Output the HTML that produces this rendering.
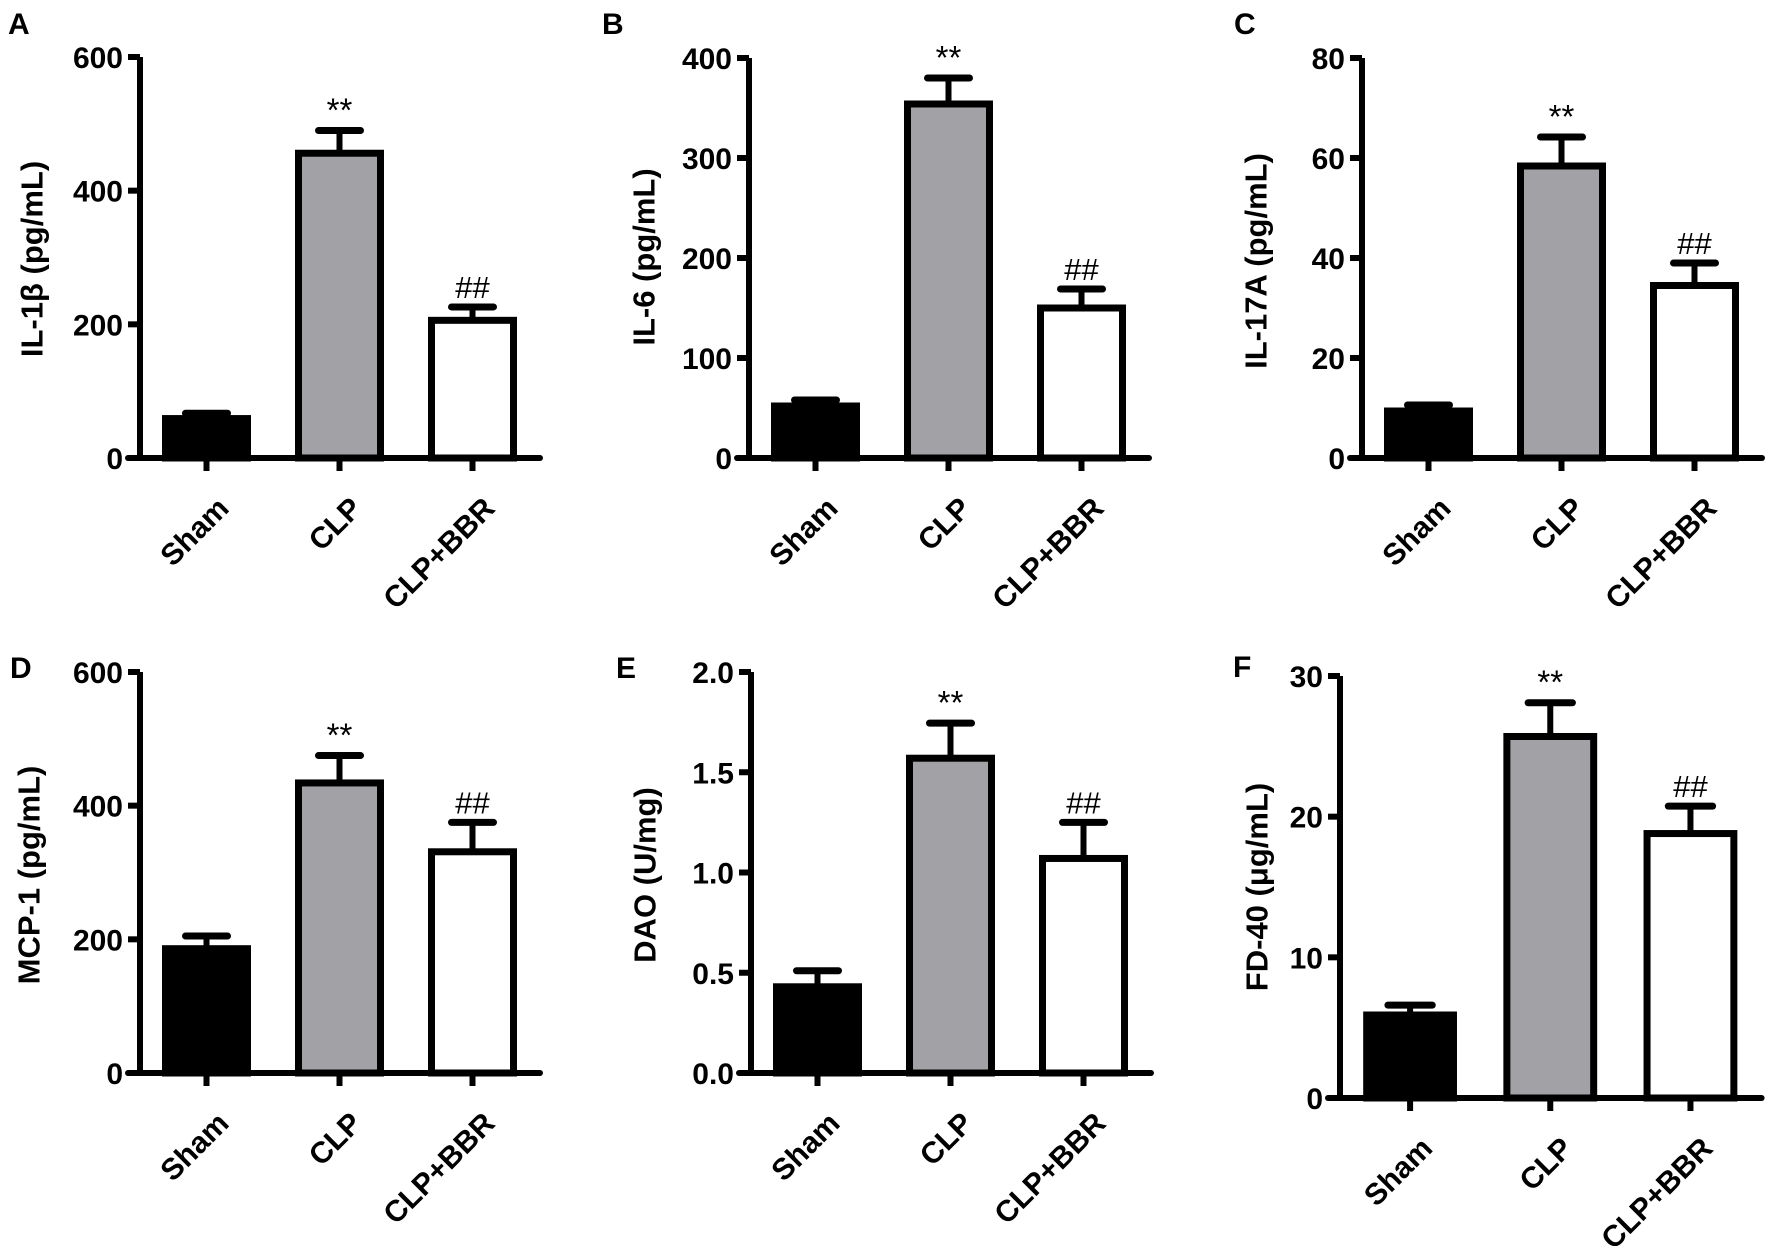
<!DOCTYPE html>
<html><head><meta charset="utf-8"><style>
html,body{margin:0;padding:0;background:#fff;}
svg{display:block;font-family:"Liberation Sans",Arial,sans-serif;}
</style></head>
<body>
<svg id="fig" width="1772" height="1246" viewBox="0 0 1772 1246" xmlns="http://www.w3.org/2000/svg"></svg>
<script>
const categories = ["Sham", "CLP", "CLP+BBR"];
const il1bMeans = [59, 456, 206];
const il1bErr = [67, 490, 226];
const il6Means = [52, 354, 150];
const il6Err = [58, 380, 169];
const il17Means = [9.4, 58.4, 34.5];
const il17Err = [10.6, 64.2, 39];
const mcpMeans = [186, 434, 331];
const mcpErr = [205, 475, 375];
const daoMeans = [0.43, 1.57, 1.07];
const daoErr = [0.51, 1.745, 1.25];
const fdMeans = [5.9, 25.7, 18.8];
const fdErr = [6.6, 28.1, 20.75];
const ticksA = ["0", "200", "400", "600"];
const ticksB = ["0", "100", "200", "300", "400"];
const ticksC = ["0", "20", "40", "60", "80"];
const ticksD = ["0", "200", "400", "600"];
const ticksE = ["0.0", "0.5", "1.0", "1.5", "2.0"];
const ticksF = ["0", "10", "20", "30"];
const marks = ["", "**", "##"];

const NS = "http://www.w3.org/2000/svg";
const svg = document.getElementById("fig");
const fills = ["#000000", "#a2a1a6", "#ffffff"];

function mk(tag, attrs, parent) {
  const e = document.createElementNS(NS, tag);
  for (const k in attrs) e.setAttribute(k, attrs[k]);
  parent.appendChild(e);
  return e;
}

function panel(cfg) {
  const g = mk("g", {}, svg);
  
  
  const s = cfg.s;
  const maxV = parseFloat(cfg.ticks[cfg.ticks.length - 1]);
  const yScale = v => cfg.y0 - (v / maxV) * (cfg.y0 - cfg.ytop);
  const xBar = i => cfg.ax + s * (22 + 133 * i);
  const bw = 89 * s;

  const lt = mk("text", {x: cfg.lx, y: cfg.ly, "font-size": 30, "font-weight": "bold"}, g);
  lt.textContent = cfg.letter;
  
  

  const tt = mk("text", {x: 0, y: 0, "font-size": 31, "font-weight": "bold", "text-anchor": "middle", "dominant-baseline": "central", transform: `translate(${cfg.tx},${cfg.ty}) rotate(-90)`}, g);
  tt.textContent = cfg.title;
  
  

  cfg.means.forEach((m, i) => {
    const x = xBar(i);
    const yt = yScale(m);
    const ye = yScale(cfg.err[i]);
    const cx = x + bw / 2;
    const el = mk("line", {x1: cx, y1: yt, x2: cx, y2: ye, stroke: "#000", "stroke-width": 6}, g);
    
    
    const cap = mk("line", {x1: cx - 21 * s, y1: ye, x2: cx + 21 * s, y2: ye, stroke: "#000", "stroke-width": 7, "stroke-linecap": "round"}, g);
    
    
    const r = mk("rect", {x: x + 3.5, y: yt, width: bw - 7, height: cfg.y0 - yt, fill: fills[i], stroke: "#000", "stroke-width": 7}, g);
    
    
    if (marks[i]) {
      const t = mk("text", {x: cx, y: ye - 9, "font-size": marks[i] === "**" ? 33 : 31, "text-anchor": "middle"}, g);
      t.textContent = marks[i];
      
      
    }
    const tx = cfg.ax + s * (66.5 + 133 * i);
    const tk = mk("line", {x1: tx, y1: cfg.y0, x2: tx, y2: cfg.y0 + 13, stroke: "#000", "stroke-width": 6}, g);
    
    
    const cl = mk("text", {x: 0, y: 0, "font-size": 30, "font-weight": "bold", "text-anchor": "end", transform: `translate(${tx + 24},${cfg.y0 + 52}) rotate(-45)`}, g);
    cl.textContent = categories[i];
    
    
  });

  const ya = mk("line", {x1: cfg.ax, y1: cfg.ytop, x2: cfg.ax, y2: cfg.y0 + 3, stroke: "#000", "stroke-width": 6}, g);
  
  
  const xa = mk("line", {x1: cfg.ax - 12, y1: cfg.y0, x2: cfg.ax + 400 * s, y2: cfg.y0, stroke: "#000", "stroke-width": 6, "stroke-linecap": "round"}, g);
  
  
  cfg.ticks.forEach(lab => {
    const y = yScale(parseFloat(lab));
    const tk = mk("line", {x1: cfg.ax - 12, y1: y, x2: cfg.ax, y2: y, stroke: "#000", "stroke-width": 6}, g);
    
    
    const t = mk("text", {x: cfg.ax - 17, y: y + 11, "font-size": 30, "font-weight": "bold", "text-anchor": "end"}, g);
    t.textContent = lab;
    
    
  });
}

panel({letter: "A", lx: 8, ly: 34, title: "IL-1β (pg/mL)", tx: 32, ty: 259, ax: 140, y0: 458, ytop: 57, s: 1, ticks: ticksA, means: il1bMeans, err: il1bErr});
panel({letter: "B", lx: 602, ly: 34, title: "IL-6 (pg/mL)", tx: 644, ty: 257, ax: 749, y0: 458, ytop: 58, s: 1, ticks: ticksB, means: il6Means, err: il6Err});
panel({letter: "C", lx: 1234, ly: 34, title: "IL-17A (pg/mL)", tx: 1256, ty: 261, ax: 1362, y0: 458, ytop: 58, s: 1, ticks: ticksC, means: il17Means, err: il17Err});
panel({letter: "D", lx: 10, ly: 678, title: "MCP-1 (pg/mL)", tx: 29, ty: 875, ax: 140, y0: 1073, ytop: 672, s: 1, ticks: ticksD, means: mcpMeans, err: mcpErr});
panel({letter: "E", lx: 616, ly: 678, title: "DAO (U/mg)", tx: 645, ty: 875, ax: 751, y0: 1073, ytop: 672, s: 1, ticks: ticksE, means: daoMeans, err: daoErr});
panel({letter: "F", lx: 1233, ly: 677, title: "FD-40 (μg/mL)", tx: 1257, ty: 887, ax: 1340, y0: 1098, ytop: 676, s: 1.054, ticks: ticksF, means: fdMeans, err: fdErr});
</script>
</body></html>
